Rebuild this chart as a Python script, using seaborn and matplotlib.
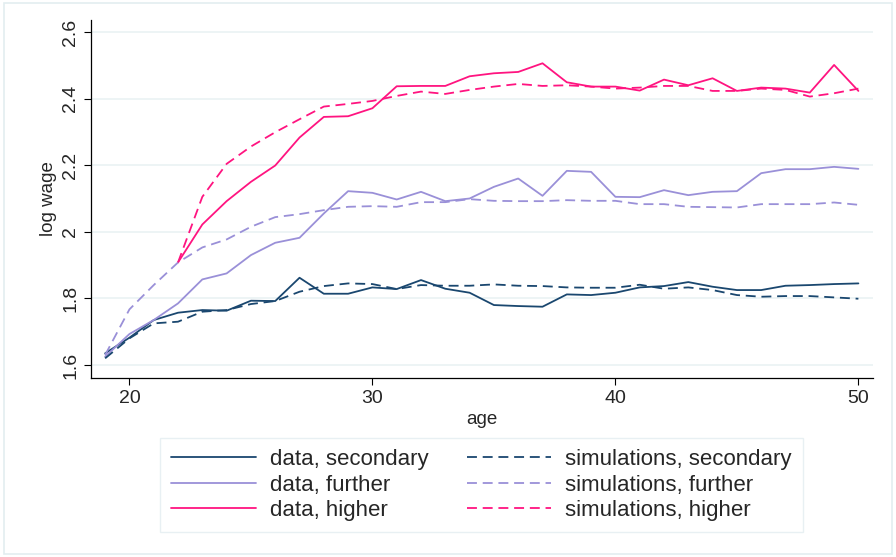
import numpy as np
import pandas as pd
import matplotlib
matplotlib.use('Agg')
import matplotlib.pyplot as plt
import seaborn as sns

# --- Data ---
ages = list(range(19, 51))
ages_higher = list(range(22, 51))

data_secondary = [1.635, 1.682, 1.735, 1.757, 1.765, 1.763, 1.793, 1.792, 1.862, 1.814,
                  1.814, 1.833, 1.828, 1.855, 1.829, 1.817, 1.780, 1.777, 1.775, 1.812,
                  1.810, 1.817, 1.833, 1.837, 1.849, 1.835, 1.825, 1.825, 1.838, 1.840,
                  1.843, 1.845]
sim_secondary = [1.620, 1.680, 1.725, 1.730, 1.760, 1.765, 1.783, 1.792, 1.820, 1.837,
                 1.845, 1.843, 1.828, 1.840, 1.838, 1.838, 1.842, 1.838, 1.837, 1.833,
                 1.832, 1.832, 1.841, 1.829, 1.833, 1.825, 1.810, 1.805, 1.807, 1.807,
                 1.803, 1.799]
data_further = [1.625, 1.693, 1.735, 1.785, 1.857, 1.875, 1.930, 1.967, 1.982, 2.055,
                2.122, 2.117, 2.097, 2.120, 2.092, 2.100, 2.135, 2.160, 2.108, 2.183,
                2.180, 2.105, 2.104, 2.125, 2.110, 2.120, 2.122, 2.176, 2.188, 2.188,
                2.195, 2.189]
sim_further = [1.630, 1.767, 1.840, 1.908, 1.953, 1.977, 2.015, 2.044, 2.053, 2.065,
               2.075, 2.077, 2.075, 2.089, 2.089, 2.098, 2.093, 2.092, 2.092, 2.095,
               2.093, 2.093, 2.083, 2.083, 2.075, 2.074, 2.073, 2.083, 2.083, 2.083,
               2.088, 2.081]
data_higher = [1.908, 2.022, 2.092, 2.150, 2.199, 2.283, 2.345, 2.347, 2.371, 2.437,
               2.438, 2.438, 2.467, 2.476, 2.480, 2.506, 2.449, 2.436, 2.436, 2.424,
               2.457, 2.440, 2.461, 2.423, 2.433, 2.430, 2.418, 2.501, 2.423]
sim_higher = [1.908, 2.105, 2.204, 2.256, 2.299, 2.338, 2.376, 2.384, 2.393, 2.408,
              2.421, 2.414, 2.426, 2.436, 2.444, 2.438, 2.440, 2.436, 2.430, 2.433,
              2.438, 2.438, 2.423, 2.423, 2.430, 2.426, 2.406, 2.416, 2.430]

col_sec = '#1a476f'
col_fur = '#9a90d8'
col_hig = '#ff1480'
grid_col = '#eaf2f3'
dash = (5.5, 3.2)

sns.set_style('white')
plt.rcParams['font.family'] = ['Liberation Sans', 'DejaVu Sans']

fig = plt.figure(figsize=(8.96, 5.57), dpi=100)
ax = fig.add_axes([0.1016, 0.3214, 0.8727, 0.6427])

series = [
    (ages, data_secondary, col_sec, '-', 'data, secondary'),
    (ages, data_further, col_fur, '-', 'data, further'),
    (ages_higher, data_higher, col_hig, '-', 'data, higher'),
    (ages, sim_secondary, col_sec, '--', 'simulations, secondary'),
    (ages, sim_further, col_fur, '--', 'simulations, further'),
    (ages_higher, sim_higher, col_hig, '--', 'simulations, higher'),
]
for x, y, c, ls, lab in series:
    sns.lineplot(x=x, y=y, ax=ax, color=c, linewidth=1.3, label=lab)
    if ls == '--':
        ax.get_lines()[-1].set_dashes(dash)

ax.set_xlim(18.42, 50.6)
ax.set_ylim(1.561, 2.636)
ax.set_xticks([20, 30, 40, 50])
ax.set_yticks([1.6, 1.8, 2.0, 2.2, 2.4, 2.6])
ax.set_yticklabels(['1.6', '1.8', '2', '2.2', '2.4', '2.6'], rotation=90, va='center')
ax.tick_params(axis='both', labelsize=14, length=5, width=0.8, direction='out',
               color='black', left=True, bottom=True)
ax.grid(axis='y', color=grid_col, linewidth=1.2)
ax.set_axisbelow(True)
for s in ['top', 'right']:
    ax.spines[s].set_visible(False)
for s in ['left', 'bottom']:
    ax.spines[s].set_color('black')
    ax.spines[s].set_linewidth(0.9)
ax.set_xlabel('age', fontsize=13.5, labelpad=3)
ax.set_ylabel('log wage', fontsize=13.5)

handles, labels = ax.get_legend_handles_labels()
leg = ax.legend(handles, labels, ncol=2, loc='upper center', bbox_to_anchor=(0.4994, -0.1676),
                fontsize=16, frameon=True, fancybox=False, handlelength=3.8,
                columnspacing=1.75, labelspacing=0.2, borderpad=0.5, handletextpad=0.63,
                borderaxespad=0)
leg.get_frame().set_edgecolor('#e3edf0')
leg.get_frame().set_linewidth(1.0)
for h in leg.get_lines():
    if h.get_linestyle() in ('--', 'dashed'):
        h.set_dashes(dash)

# outer border of the graph region
fig.patches.append(plt.Rectangle((0.004, 0.005), 0.992, 0.99, transform=fig.transFigure,
                                 fill=False, edgecolor='#e3edf0', linewidth=1.2))

plt.savefig('out.png', dpi=100)
